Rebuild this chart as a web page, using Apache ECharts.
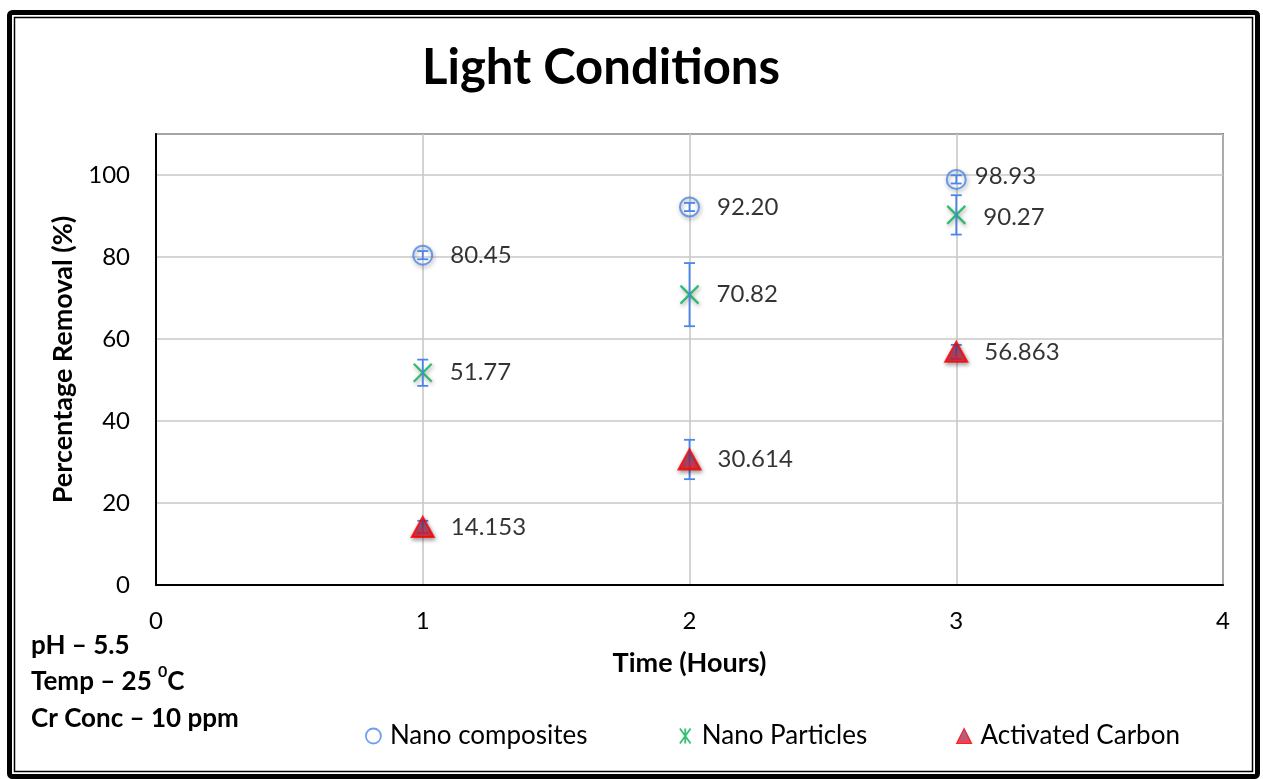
<!DOCTYPE html>
<html><head><meta charset="utf-8">
<script src="https://cdn.jsdelivr.net/npm/echarts@6/dist/echarts.min.js"></script>
<style>html,body{margin:0;padding:0;background:#fff}#c{width:1263px;height:779px}</style>
</head><body><div id="c"></div>
<script>
// ---- data ----
const times = [1, 2, 3];
const nanoComposites = [80.45, 92.20, 98.93];
const nanoCompositesErr = [1.0, 1.0, 1.0];
const nanoParticles = [51.77, 70.82, 90.27];
const nanoParticlesErr = [3.2, 7.7, 4.8];
const activatedCarbon = [14.153, 30.614, 56.863];
const activatedCarbonErr = [1.5, 4.8, 1.7];
const seriesNames = ['Nano composites', 'Nano Particles', 'Activated Carbon'];
const labelDecimals = [2, 2, 3];
const titleText = 'Light Conditions';
const xAxisName = 'Time (Hours)';
const yAxisName = 'Percentage Removal (%)';
const conditionLines = ['{b|pH – 5.5}', '{b|Temp – 25 }{s|0}{b|C}', '{b|Cr Conc – 10 ppm}'];

// ---- chart ----
const FONT = 'Lato, "Open Sans", sans-serif';
const ERR_COLOR = '#4a86e8';
const chart = echarts.init(document.getElementById('c'), null, {renderer: 'canvas'});

function errorSeries(id, vals, errs, z) {
  return {
    type: 'custom', id: id, name: id, z: z, silent: true,
    data: times.map((t, i) => [t, vals[i] - errs[i], vals[i] + errs[i]]),
    encode: {x: 0, y: [1, 2]},
    renderItem: function (params, api) {
      const x = api.value(0);
      const lo = api.coord([x, api.value(1)]);
      const hi = api.coord([x, api.value(2)]);
      const w = 5.5;
      const st = {stroke: ERR_COLOR, lineWidth: 1.8};
      return {type: 'group', children: [
        {type: 'line', shape: {x1: lo[0], y1: lo[1], x2: hi[0], y2: hi[1]}, style: st},
        {type: 'line', shape: {x1: lo[0] - w, y1: lo[1], x2: lo[0] + w, y2: lo[1]}, style: st},
        {type: 'line', shape: {x1: hi[0] - w, y1: hi[1], x2: hi[0] + w, y2: hi[1]}, style: st}
      ]};
    }
  };
}

function labelStyle(dec, dist) {
  return {
    show: true, position: 'right', distance: dist, color: '#000',
    fontSize: 24, fontFamily: FONT,
    formatter: p => p.value[1].toFixed(dec)
  };
}

const shadow = {shadowBlur: 4, shadowColor: 'rgba(0,0,0,0.45)', shadowOffsetY: 2, shadowOffsetX: 1};

const ncData = times.map((t, i) => {
  const item = {value: [t, nanoComposites[i]]};
  if (i === 2) item.label = {distance: 8, offset: [0, -3]};
  return item;
});
const npData = times.map((t, i) => {
  const item = {value: [t, nanoParticles[i]]};
  if (i === 2) item.label = {offset: [0, 2]};
  return item;
});
const acData = times.map((t, i) => ({value: [t, activatedCarbon[i]]}));

const XPATH = 'path://M0,0L20,20M20,0L0,20';
const ASTER = 'path://M0,0L10,14M10,0L0,14M5,0L5,14';
const triGrad = {type: 'linear', x: 0, y: 0, x2: 0, y2: 1,
  colorStops: [{offset: 0, color: '#5060b8'}, {offset: 0.55, color: '#a8305e'}, {offset: 1, color: '#f5101a'}]};

const legendLefts = [365, 679, 956];
const legendIcons = ['circle', ASTER, 'triangle'];
const legendStyles = [
  {color: 'rgba(0,0,0,0)', borderColor: ERR_COLOR, borderWidth: 1.8},
  {color: 'rgba(0,0,0,0)', borderColor: '#00b050', borderWidth: 1.8},
  {color: triGrad, borderColor: '#ff0000', borderWidth: 1.2}
];

const option = {
  backgroundColor: '#fff',
  animation: false,
  textStyle: {fontFamily: FONT},
  grid: {left: 156, top: 134, width: 1067, height: 451, show: true,
    borderColor: '#000', borderWidth: 1.5, backgroundColor: 'transparent', containLabel: false},
  xAxis: {
    type: 'value', min: 0, max: 4, interval: 1,
    name: xAxisName, nameLocation: 'middle', nameGap: 65,
    nameTextStyle: {fontSize: 27, fontWeight: 'bold', color: '#000', fontFamily: FONT},
    axisLine: {show: true, lineStyle: {color: '#000', width: 2}},
    axisTick: {show: false},
    axisLabel: {fontSize: 24, color: '#000', margin: 24, fontFamily: FONT},
    splitLine: {show: true, lineStyle: {color: '#c8c8c8', width: 1.6}}
  },
  yAxis: {
    type: 'value', min: 0, max: 110, interval: 20,
    name: yAxisName, nameLocation: 'middle', nameGap: 79,
    nameTextStyle: {fontSize: 27, fontWeight: 'bold', color: '#000', fontFamily: FONT},
    axisLine: {show: true, lineStyle: {color: '#000', width: 2}},
    axisTick: {show: false},
    axisLabel: {fontSize: 24, color: '#000', margin: 26, fontFamily: FONT, showMaxLabel: false},
    splitLine: {show: true, lineStyle: {color: '#c8c8c8', width: 1.6}}
  },
  legend: seriesNames.map((n, i) => ({
    show: true, left: legendLefts[i], top: 723, padding: 0,
    itemWidth: 15, itemHeight: 15,
    selectedMode: false,
    textStyle: {fontSize: 26, color: '#000', fontFamily: FONT, padding: [0, 0, 0, 4]},
    data: [{name: n, icon: legendIcons[i], itemStyle: legendStyles[i]}]
  })),
  series: [
    errorSeries('errAC', activatedCarbon, activatedCarbonErr, 1),
    errorSeries('errNP', nanoParticles, nanoParticlesErr, 3),
    {
      type: 'scatter', name: seriesNames[0], z: 2,
      symbol: 'circle', symbolSize: 19,
      itemStyle: Object.assign({color: 'rgba(255,255,255,0)', borderColor: ERR_COLOR, borderWidth: 2}, shadow),
      label: labelStyle(labelDecimals[0], 17),
      data: ncData
    },
    errorSeries('errNC', nanoComposites, nanoCompositesErr, 4),
    {
      type: 'scatter', name: seriesNames[1], z: 2,
      symbol: XPATH, symbolSize: 18,
      itemStyle: Object.assign({color: 'rgba(255,255,255,0)', borderColor: '#00b050', borderWidth: 2.2}, shadow),
      label: labelStyle(labelDecimals[1], 17),
      data: npData
    },
    {
      type: 'scatter', name: seriesNames[2], z: 2,
      symbol: 'triangle', symbolSize: [22, 20],
      itemStyle: Object.assign({color: triGrad, borderColor: '#ff0000', borderWidth: 2}, shadow),
      label: labelStyle(labelDecimals[2], 16),
      data: acData
    }
  ],
  graphic: [
    {type: 'rect', silent: true, shape: {x: 9.5, y: 12.5, width: 1248, height: 764, r: 3},
      style: {fill: 'none', stroke: '#000', lineWidth: 5}, z: 100},
    {type: 'rect', silent: true, shape: {x: 14.5, y: 17.5, width: 1238, height: 754},
      style: {fill: 'none', stroke: '#000', lineWidth: 1.5}, z: 100},
    {type: 'text', silent: true, x: 601, y: 68,
      style: {text: titleText, font: 'bold 49px ' + FONT, fill: '#000', textAlign: 'center', textVerticalAlign: 'middle'}},
    {type: 'text', silent: true, x: 31, y: 627,
      style: {
        text: conditionLines.join('\n'), fill: '#000', textAlign: 'left', textVerticalAlign: 'top',
        lineHeight: 36.5,
        rich: {
          b: {fontSize: 26, fontWeight: 'bold', fontFamily: FONT, lineHeight: 36.5, fill: '#000'},
          s: {fontSize: 16, fontWeight: 'bold', fontFamily: FONT, verticalAlign: 'top', lineHeight: 30, fill: '#000'}
        }
      }}
  ]
};
chart.setOption(option);
</script>
</body></html>
